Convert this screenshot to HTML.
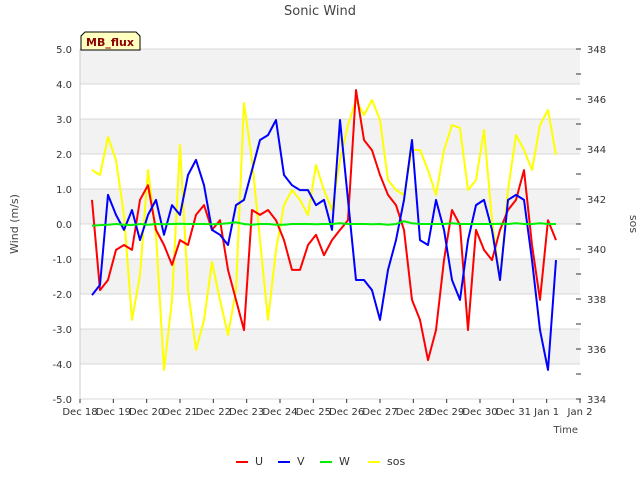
<!DOCTYPE html>
<html><head><meta charset="utf-8"><style>
body{margin:0;background:#fff;font-family:"Liberation Sans",sans-serif}
svg text{font-family:"DejaVu Sans","Liberation Sans",sans-serif}
</style></head><body>
<svg id="chart" width="640" height="480" xmlns="http://www.w3.org/2000/svg">
<text x="320" y="15" text-anchor="middle" font-size="13" fill="#444">Sonic Wind</text>
<g id="bands"></g><g id="axes"></g><g id="series"></g>
<text transform="translate(18,224) rotate(-90)" text-anchor="middle" font-size="11" fill="#444">Wind (m/s)</text>
<text transform="translate(630,224) rotate(90)" text-anchor="middle" font-size="11" fill="#444">sos</text>
<text x="578" y="433" text-anchor="end" font-size="10" fill="#444">Time</text>
<g>
<path d="M81,50 L81,36 L85,32 L136,32 L140,36 L140,50 Z" fill="#ffffc0" stroke="#000" stroke-width="1"/>
<text x="110" y="46" text-anchor="middle" font-size="11" font-weight="bold" fill="#8b0000">MB_flux</text>
</g>
<g id="legend"></g>
</svg>
<script>
const days=[0.36,0.6,0.84,1.08,1.32,1.56,1.8,2.04,2.28,2.52,2.76,3.0,3.24,3.48,3.72,3.96,4.2,4.44,4.68,4.92,5.16,5.4,5.64,5.88,6.12,6.36,6.6,6.84,7.08,7.32,7.56,7.8,8.04,8.28,8.52,8.76,9.0,9.24,9.48,9.72,9.96,10.2,10.44,10.68,10.92,11.16,11.4,11.64,11.88,12.12,12.36,12.6,12.84,13.08,13.32,13.56,13.8,14.04,14.28];
const uVals=[0.69,-1.89,-1.6,-0.74,-0.6,-0.74,0.69,1.11,-0.17,-0.6,-1.17,-0.46,-0.6,0.26,0.54,-0.17,0.11,-1.31,-2.17,-3.03,0.4,0.26,0.4,0.11,-0.46,-1.31,-1.31,-0.6,-0.31,-0.89,-0.46,-0.17,0.11,3.83,2.4,2.11,1.4,0.83,0.54,-0.17,-2.17,-2.74,-3.89,-3.03,-1.03,0.4,-0.03,-3.03,-0.17,-0.74,-1.03,-0.17,0.4,0.69,1.54,-0.6,-2.17,0.11,-0.46];
const vVals=[-2.03,-1.74,0.83,0.26,-0.17,0.4,-0.46,0.26,0.69,-0.31,0.54,0.26,1.4,1.83,1.11,-0.17,-0.31,-0.6,0.54,0.69,1.54,2.4,2.54,2.97,1.4,1.11,0.97,0.97,0.54,0.69,-0.17,2.97,0.69,-1.6,-1.6,-1.89,-2.74,-1.31,-0.46,0.69,2.4,-0.46,-0.6,0.69,-0.17,-1.6,-2.17,-0.46,0.54,0.69,-0.17,-1.6,0.69,0.83,0.69,-1.03,-3.03,-4.17,-1.03];
const wVals=[-0.05,-0.03,-0.02,0.0,-0.02,-0.03,0.0,-0.02,0.0,-0.01,0.0,0.01,0.0,0.0,0.0,-0.01,0.0,0.02,0.05,0.0,-0.02,0.0,0.0,-0.02,-0.02,0.0,0.0,0.0,-0.01,0.0,0.0,0.02,0.0,0.0,0.0,-0.01,0.0,-0.02,0.0,0.08,0.02,0.0,0.0,0.0,0.0,0.02,0.0,0.0,0.0,0.0,0.0,0.01,0.0,0.02,0.0,0.0,0.02,0.0,0.0];
const sosVals=[343.16,342.96,344.48,343.56,341.36,337.16,338.96,343.16,340.56,335.16,337.96,344.16,338.36,335.96,337.16,339.48,337.96,336.56,338.36,345.84,343.56,340.36,337.16,339.96,341.76,342.36,341.96,341.36,343.36,342.36,341.56,343.56,344.96,345.96,345.36,345.96,345.16,342.76,342.36,342.16,343.96,343.96,343.16,342.16,343.96,344.96,344.84,342.36,342.76,344.76,341.16,338.76,342.36,344.56,343.96,343.16,344.96,345.56,343.76];
const yTicks=[5,4,3,2,1,0,-1,-2,-3,-4,-5];
const y2Ticks=[348,346,344,342,340,338,336,334];
const xLabels=["Dec 18","Dec 19","Dec 20","Dec 21","Dec 22","Dec 23","Dec 24","Dec 25","Dec 26","Dec 27","Dec 28","Dec 29","Dec 30","Dec 31","Jan 1","Jan 2"];
const L=80,R=580,T=49,B=399;
const xs=d=>L+d*(R-L)/15;
const ys=v=>T+(5-v)*(B-T)/10;
const ys2=s=>T+(348-s)*(B-T)/14;
const NS="http://www.w3.org/2000/svg";
function mk(tag,attrs,parent){const e=document.createElementNS(NS,tag);for(const k in attrs)e.setAttribute(k,attrs[k]);parent.appendChild(e);return e;}
const bands=document.getElementById('bands'),axes=document.getElementById('axes'),ser=document.getElementById('series'),leg=document.getElementById('legend');
for(let v=4;v>=-4;v-=2){const r=mk('rect',{x:L,y:ys(v+1),width:R-L,height:ys(v)-ys(v+1),fill:'#f2f2f2'},bands);

}
yTicks.forEach(v=>{const g=mk('line',{x1:L,x2:R,y1:ys(v),y2:ys(v),stroke:'#d8d8d8','stroke-width':1},axes);


const t=mk('text',{x:72,y:ys(v)+4,'text-anchor':'end','font-size':10,fill:'#333'},axes);t.textContent=v.toFixed(1);

});
mk('line',{x1:L,x2:L,y1:T,y2:B,stroke:'#ccc'},axes);
for(let s=334;s<=348;s++){mk('line',{x1:R-4,x2:R+1,y1:ys2(s),y2:ys2(s),stroke:'#333'},axes);}
y2Ticks.forEach(s=>{const t=mk('text',{x:587,y:ys2(s)+4,'font-size':10,fill:'#333'},axes);t.textContent=s;

});
xLabels.forEach((lab,i)=>{mk('line',{x1:xs(i),x2:xs(i),y1:B,y2:B+4,stroke:'#333'},axes);
const t=mk('text',{x:xs(i),y:415,'text-anchor':'middle','font-size':10,fill:'#333'},axes);t.textContent=lab;

});
function line(vals,fy,color,name){const p=mk('polyline',{points:vals.map((v,i)=>xs(days[i]).toFixed(1)+','+fy(v).toFixed(1)).join(' '),fill:'none',stroke:color,'stroke-width':2,'stroke-linejoin':'round'},ser);

}
line(sosVals,ys2,'#ffff00','series-sos');
line(uVals,ys,'#ff0000','series-u');
line(vVals,ys,'#0000ff','series-v');
line(wVals,ys,'#00ee00','series-w');
[['U','#ff0000',236],['V','#0000ff',278],['W','#00ee00',320],['sos','#ffff00',368]].forEach(([n,c,x])=>{
const g=mk('g',{},leg);


mk('line',{x1:x,x2:x+12,y1:462,y2:462,stroke:c,'stroke-width':2},g);
const t=mk('text',{x:x+19,y:465,'font-size':11,fill:'#333'},g);t.textContent=n;});
</script>
</body></html>
